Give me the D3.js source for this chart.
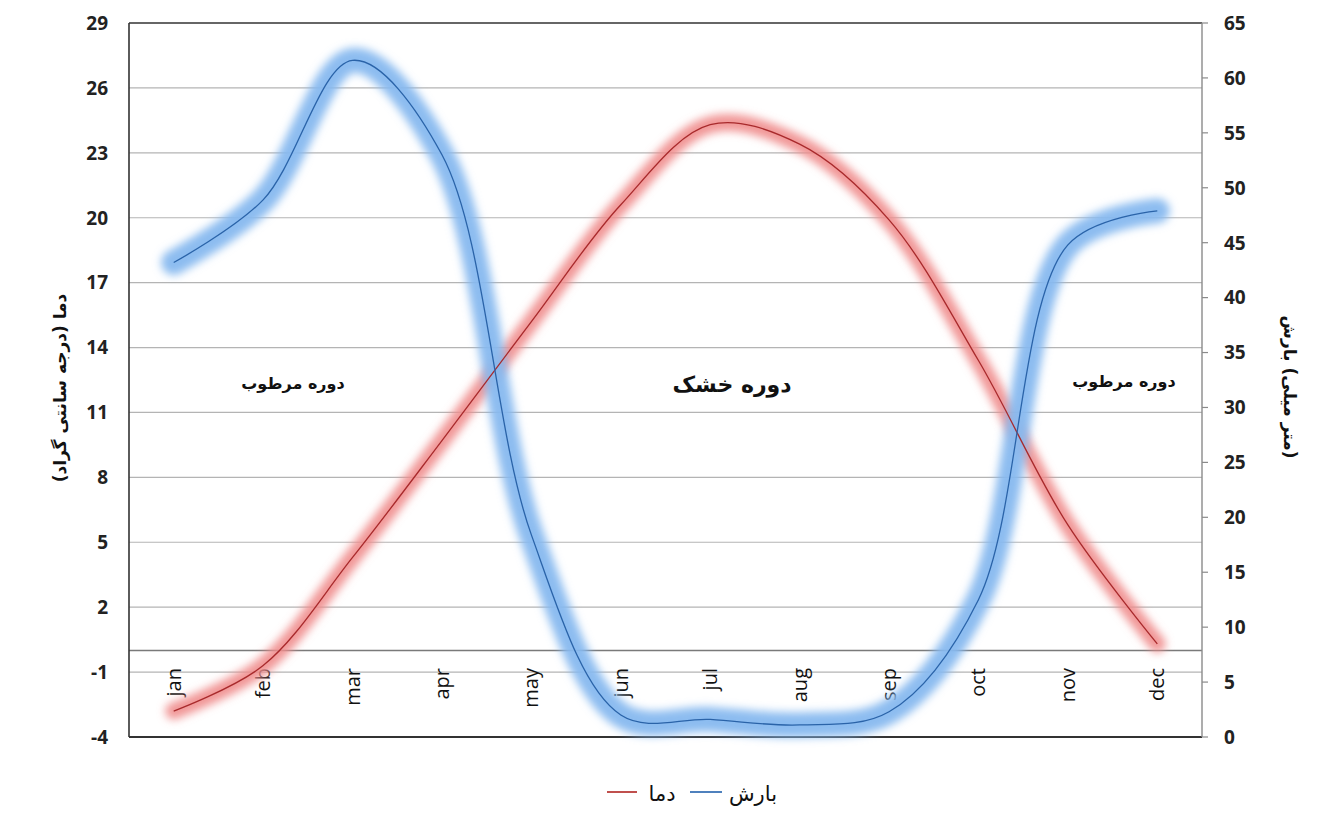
<!DOCTYPE html>
<html>
<head>
<meta charset="utf-8">
<script src="https://cdn.jsdelivr.net/npm/d3@7"></script>
<style>
    body { margin: 0; background: #fff; }
    svg { display: block; }
    .tick-label { font-family: "Open Sans", "DejaVu Sans", sans-serif; font-weight: bold; font-size: 19px; fill: #222; }
    .month { font-family: "Open Sans", "DejaVu Sans", sans-serif; font-size: 20px; fill: #111; }
    .fa { font-family: "DejaVu Sans", "Noto Sans", sans-serif; fill: #111; }
</style>
</head>
<body>
<svg id="chart"></svg>
<script>
    const months = ["jan", "feb", "mar", "apr", "may", "jun", "jul", "aug", "sep", "oct", "nov", "dec"];
    const temperature = [-2.8, -0.7, 4.3, 9.7, 15.2, 20.6, 24.3, 23.4, 19.9, 13.4, 5.8, 0.3];
    const precipitation = [43.2, 48.9, 61.6, 53, 18.4, 2.0, 1.6, 1.1, 2.3, 12.5, 44.8, 47.9];
    const tempTicks = [-4, -1, 2, 5, 8, 11, 14, 17, 20, 23, 26, 29];
    const precipTicks = [0, 5, 10, 15, 20, 25, 30, 35, 40, 45, 50, 55, 60, 65];

    const width = 1325, height = 813;
    const plot = { left: 129, right: 1202, top: 23, bottom: 737 };

    const svg = d3.select("#chart").attr("width", width).attr("height", height);

    const x = d3.scaleBand().domain(months).range([plot.left, plot.right]);
    const yT = d3.scaleLinear().domain([-4, 29]).range([plot.bottom, plot.top]);
    const yP = d3.scaleLinear().domain([0, 65]).range([plot.bottom, plot.top]);

    const defs = svg.append("defs");
    defs.append("filter").attr("id", "glowRed")
        .attr("x", "-10%").attr("y", "-10%").attr("width", "120%").attr("height", "120%")
        .append("feGaussianBlur").attr("stdDeviation", 4);
    defs.append("filter").attr("id", "glowBlue")
        .attr("x", "-10%").attr("y", "-10%").attr("width", "120%").attr("height", "120%")
        .append("feGaussianBlur").attr("stdDeviation", 4.5);

    // grid lines
    svg.append("g").selectAll("line")
        .data(tempTicks.filter(t => t !== -4 && t !== 29))
        .enter().append("line")
        .attr("x1", plot.left).attr("x2", plot.right)
        .attr("y1", d => yT(d)).attr("y2", d => yT(d))
        .attr("stroke", "#b4b4b4").attr("stroke-width", 1.2);

    // horizontal category axis at 0
    svg.append("line")
        .attr("x1", plot.left).attr("x2", plot.right)
        .attr("y1", yT(0)).attr("y2", yT(0))
        .attr("stroke", "#7a7a7a").attr("stroke-width", 1.5);

    // frame
    svg.append("line").attr("x1", plot.left).attr("x2", plot.right)
        .attr("y1", plot.top).attr("y2", plot.top).attr("stroke", "#333").attr("stroke-width", 1.6);
    svg.append("line").attr("x1", plot.left).attr("x2", plot.right)
        .attr("y1", plot.bottom).attr("y2", plot.bottom).attr("stroke", "#333").attr("stroke-width", 1.8);
    svg.append("line").attr("x1", plot.left).attr("x2", plot.left)
        .attr("y1", plot.top).attr("y2", plot.bottom).attr("stroke", "#333").attr("stroke-width", 1.6);
    svg.append("line").attr("x1", plot.right).attr("x2", plot.right)
        .attr("y1", plot.top).attr("y2", plot.bottom).attr("stroke", "#8a8a8a").attr("stroke-width", 1.4);

    // left axis labels
    svg.append("g").selectAll("text")
        .data(tempTicks)
        .enter().append("text")
        .attr("class", "tick-label")
        .attr("x", 108)
        .attr("y", d => yT(d))
        .attr("dy", "0.36em")
        .attr("text-anchor", "end")
        .text(d => d);

    // right axis ticks + labels
    const rAxis = svg.append("g");
    rAxis.selectAll("line")
        .data(precipTicks)
        .enter().append("line")
        .attr("x1", plot.right).attr("x2", plot.right + 6)
        .attr("y1", d => yP(d)).attr("y2", d => yP(d))
        .attr("stroke", "#8a8a8a").attr("stroke-width", 1.2);
    rAxis.selectAll("text")
        .data(precipTicks)
        .enter().append("text")
        .attr("class", "tick-label")
        .attr("x", 1224)
        .attr("y", d => yP(d))
        .attr("dy", "0.36em")
        .text(d => d);

    // month labels
    svg.append("g").selectAll("text")
        .data(months)
        .enter().append("text")
        .attr("class", "month")
        .attr("transform", d => `translate(${x(d) + x.bandwidth() / 2 + 7},668) rotate(-90)`)
        .attr("text-anchor", "end")
        .text(d => d);

    // series
    const curve = d3.curveCatmullRom.alpha(0.5);
    const tempLine = d3.line()
        .x((d, i) => x(months[i]) + x.bandwidth() / 2)
        .y(d => yT(d))
        .curve(curve);
    const precipLine = d3.line()
        .x((d, i) => x(months[i]) + x.bandwidth() / 2)
        .y(d => yP(d))
        .curve(curve);

    svg.append("path").attr("d", tempLine(temperature))
        .attr("fill", "none").attr("stroke", "#f08c8c").attr("stroke-width", 17)
        .attr("stroke-linecap", "round").attr("stroke-opacity", 0.9)
        .attr("filter", "url(#glowRed)");
    svg.append("path").attr("d", precipLine(precipitation))
        .attr("fill", "none").attr("stroke", "#86b8ef").attr("stroke-width", 25)
        .attr("stroke-linecap", "round").attr("stroke-opacity", 0.95)
        .attr("filter", "url(#glowBlue)");
    svg.append("path").attr("d", tempLine(temperature))
        .attr("fill", "none").attr("stroke", "#a82a2c").attr("stroke-width", 1.3);
    svg.append("path").attr("d", precipLine(precipitation))
        .attr("fill", "none").attr("stroke", "#2a63a8").attr("stroke-width", 1.3);

    // annotations
    svg.append("text").attr("class", "fa").attr("x", 293).attr("y", 389)
        .attr("text-anchor", "middle").style("font-size", "16px").style("font-weight", "bold").text("دوره مرطوب");
    svg.append("text").attr("class", "fa").attr("x", 732).attr("y", 392)
        .attr("text-anchor", "middle").style("font-size", "22px").style("font-weight", "bold").text("دوره خشک");
    svg.append("text").attr("class", "fa").attr("x", 1124).attr("y", 387)
        .attr("text-anchor", "middle").style("font-size", "16px").style("font-weight", "bold").text("دوره مرطوب");

    // axis titles
    svg.append("text").attr("class", "fa")
        .attr("transform", "translate(66,388) rotate(-90)")
        .attr("text-anchor", "middle").style("font-size", "17px").style("font-weight", "bold")
        .text("دما (درجه سانتی گراد)");
    svg.append("text").attr("class", "fa")
        .attr("transform", "translate(1284,387) rotate(90)")
        .attr("text-anchor", "middle").attr("direction", "ltr")
        .style("font-size", "17px").style("font-weight", "bold")
        .text("بارش\u200E (\u200Eمیلی\u200E متر\u200E)");

    // legend
    const legend = svg.append("g");
    legend.append("line").attr("x1", 607).attr("x2", 637).attr("y1", 792).attr("y2", 792)
        .attr("stroke", "#c0504d").attr("stroke-width", 2);
    legend.append("text").attr("class", "fa").attr("x", 662).attr("y", 801)
        .attr("text-anchor", "middle").style("font-size", "21px").text("دما");
    legend.append("line").attr("x1", 690).attr("x2", 722).attr("y1", 792).attr("y2", 792)
        .attr("stroke", "#4f81bd").attr("stroke-width", 2);
    legend.append("text").attr("class", "fa").attr("x", 753).attr("y", 801)
        .attr("text-anchor", "middle").style("font-size", "21px").text("بارش");
</script>
</body>
</html>
